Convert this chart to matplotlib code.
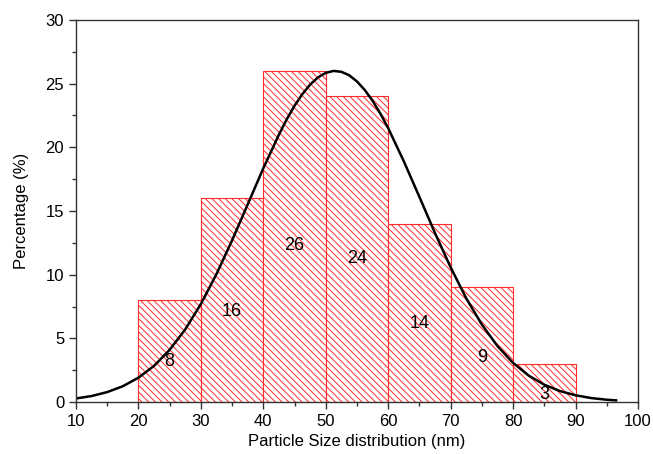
import numpy as np
import matplotlib.pyplot as plt
from matplotlib.ticker import MultipleLocator

plt.rcParams['font.family'] = ['Liberation Sans', 'DejaVu Sans']
plt.rcParams['hatch.color'] = '#ff2a2a'
plt.rcParams['hatch.linewidth'] = 0.7

# histogram bins (nm) and percentages
bin_left = [20, 30, 40, 50, 60, 70, 80]
percent = [8, 16, 26, 24, 14, 9, 3]
bin_width = 10

# fitted curve
fit_x = [10, 12.5, 15, 17.5, 20, 22.5, 25, 27.5, 30, 32.5, 35, 37.5, 40,
         42.5, 43.75, 45, 46.25, 47.5, 48.75, 50, 51.25, 52.5, 53.75, 55,
         56.25, 57.5, 58.75, 60, 62.5, 65, 67.5, 70, 72.5,
         75, 77.5, 80, 82.5, 85, 87.5, 90, 92.5, 95, 96.5]
fit_y = [0.28, 0.47, 0.78, 1.24, 1.91, 2.84, 4.10, 5.71, 7.70, 10.05, 12.70,
         15.52, 18.36, 21.0, 22.2, 23.27, 24.18, 24.93, 25.49, 25.85, 26.0,
         25.93, 25.66, 25.17, 24.5, 23.65, 22.64, 21.5,
         18.9, 16.1, 13.26, 10.57, 8.14, 6.08, 4.39, 3.07, 2.07, 1.36, 0.86,
         0.53, 0.31, 0.18, 0.13]

# where the numbers sit inside the bars
label_x = [25, 35, 45, 55, 65, 75, 85]
label_y = [3.2, 7.1, 12.3, 11.3, 6.2, 3.5, 0.6]

fig = plt.figure(figsize=(6.53, 4.54), dpi=100)
ax = fig.add_axes([0.1164, 0.1145, 0.8606, 0.8415])

ax.bar(bin_left, percent, width=bin_width, align='edge', facecolor='white',
       edgecolor='#ff2a2a', linewidth=0.8, hatch='\\\\\\\\\\')
ax.plot(fit_x, fit_y, color='black', lw=1.8)

for xv, yv, p in zip(label_x, label_y, percent):
    ax.text(xv, yv, str(p), ha='center', va='center', fontsize=13)

ax.set_xlim(10, 100)
ax.set_ylim(0, 30)
ax.xaxis.set_major_locator(MultipleLocator(10))
ax.xaxis.set_minor_locator(MultipleLocator(5))
ax.yaxis.set_major_locator(MultipleLocator(5))
ax.yaxis.set_minor_locator(MultipleLocator(2.5))
ax.tick_params(which='both', direction='out', top=False, right=False,
               labelsize=12, color='#333333')
ax.tick_params(which='major', length=5, width=1)
ax.tick_params(which='minor', length=3, width=1)
for s in ax.spines.values():
    s.set_color('#333333')
    s.set_linewidth(1)

ax.set_xlabel('Particle Size distribution (nm)', fontsize=12)
ax.set_ylabel('Percentage (%)', fontsize=12, labelpad=12)

fig.savefig('out.png', dpi=100)
